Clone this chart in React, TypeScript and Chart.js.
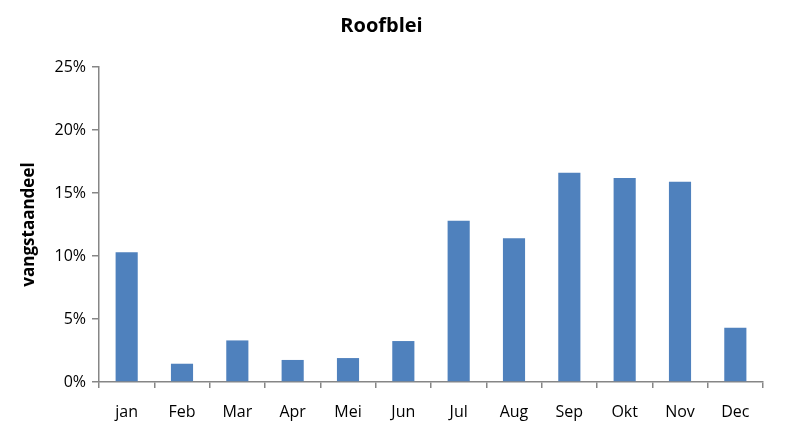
import React, { useEffect, useRef } from "react";
import { Chart, registerables } from "chart.js";

Chart.register(...registerables);

const categories = ["jan", "Feb", "Mar", "Apr", "Mei", "Jun", "Jul", "Aug", "Sep", "Okt", "Nov", "Dec"];
const vangstaandeel = [10.3, 1.45, 3.3, 1.75, 1.9, 3.25, 12.8, 11.4, 16.6, 16.2, 15.9, 4.3];
const yTicks = [0, 5, 10, 15, 20, 25];
const titleText = "Roofblei";
const yTitle = "vangstaandeel";

const FONT = "'Open Sans', 'Noto Sans', sans-serif";
const AXIS = "#868686";

export default function App() {
  const ref = useRef<HTMLCanvasElement | null>(null);
  useEffect(() => {
    if (!ref.current) return;
    const chart = new Chart(ref.current, {
      type: "bar",
      data: {
        labels: categories,
        datasets: [
          {
            data: vangstaandeel,
            backgroundColor: "#4F81BD",
            barPercentage: 0.4,
            categoryPercentage: 1,
          },
        ],
      },
      options: {
        animation: false,
        responsive: false,
        layout: { padding: { left: 0, right: 41, top: 0, bottom: 0 } },
        plugins: {
          legend: { display: false },
          tooltip: { enabled: false },
          title: {
            display: true,
            text: titleText,
            color: "#000",
            font: { family: FONT, size: 20, weight: "bold" },
            padding: { top: 14, bottom: 29 },
          },
        },
        scales: {
          x: {
            grid: {
              display: true,
              drawOnChartArea: false,
              tickLength: 6,
              color: AXIS,
              lineWidth: 1.5,
              offset: true,
            },
            border: { color: AXIS, width: 1.5 },
            ticks: { color: "#000", font: { family: FONT, size: 16 }, padding: 15, maxRotation: 0 },
            afterFit: (s: any) => {
              s.height = 55;
            },
          },
          y: {
            min: 0,
            max: 25,
            afterBuildTicks: (s: any) => {
              s.ticks = yTicks.map((v) => ({ value: v }));
            },
            grid: {
              display: true,
              drawOnChartArea: false,
              tickLength: 7,
              color: AXIS,
              lineWidth: 1.5,
            },
            border: { color: AXIS, width: 1.5 },
            ticks: {
              color: "#000",
              font: { family: FONT, size: 16 },
              padding: 6,
              callback: (v: any) => v + "%",
            },
            title: {
              display: true,
              text: yTitle,
              color: "#000",
              font: { family: FONT, size: 17, weight: "bold" },
              padding: { top: 19, bottom: 8 },
            },
            afterFit: (s: any) => {
              s.width = 99;
            },
          },
        },
      },
    });
    return () => chart.destroy();
  }, []);
  return (
    <div style={{ position: "absolute", left: 0, top: 0, width: 804, height: 437, background: "#fff" }}>
      <canvas ref={ref} width={804} height={437} style={{ width: 804, height: 437 }} />
    </div>
  );
}
